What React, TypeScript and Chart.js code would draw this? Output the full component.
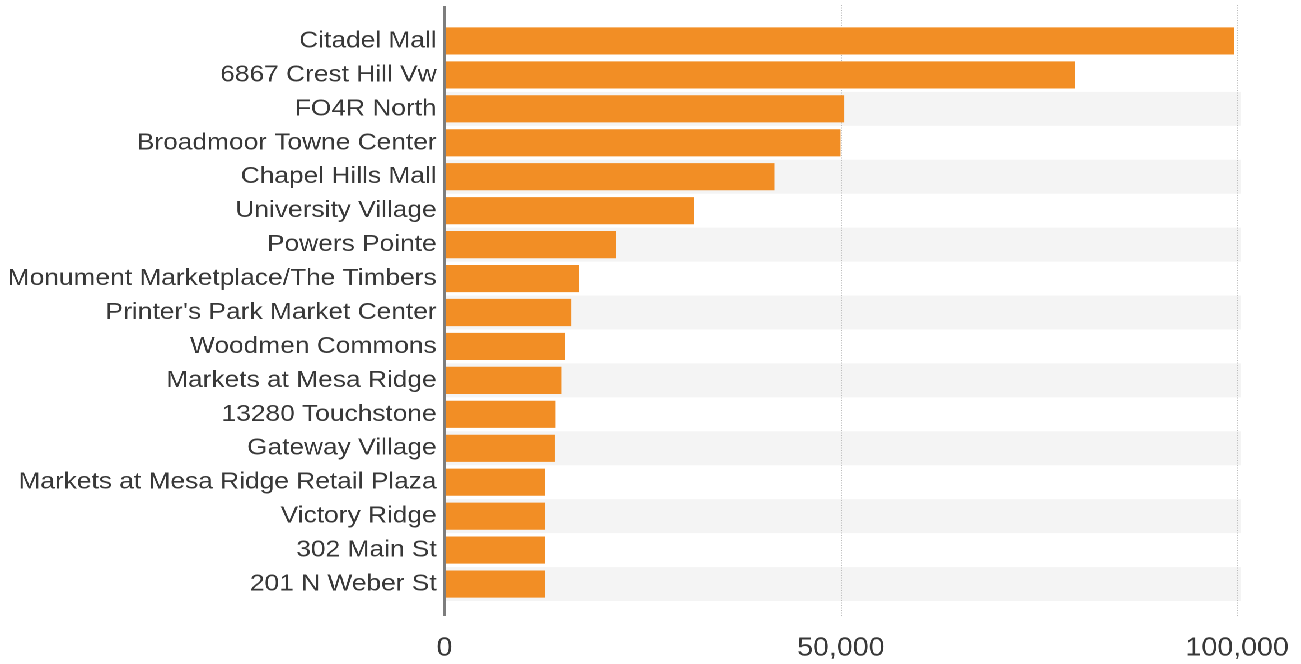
import React, { useEffect, useRef } from "react";
import Chart from "chart.js/auto";

const categories: string[] = [
  "Citadel Mall",
  "6867 Crest Hill Vw",
  "FO4R North",
  "Broadmoor Towne Center",
  "Chapel Hills Mall",
  "University Village",
  "Powers Pointe",
  "Monument Marketplace/The Timbers",
  "Printer's Park Market Center",
  "Woodmen Commons",
  "Markets at Mesa Ridge",
  "13280 Touchstone",
  "Gateway Village",
  "Markets at Mesa Ridge Retail Plaza",
  "Victory Ridge",
  "302 Main St",
  "201 N Weber St",
];

const values: number[] = [
  99600, 79550, 50430, 49960, 41630, 31490, 21650, 17020, 15970, 15210, 14790,
  14010, 13910, 12650, 12650, 12650, 12650,
];

const xTickValues: number[] = [0, 50000, 100000];
const gridValues: number[] = [50000, 100000];

const STRETCH = 1301 / 1162;
const CW = 1162;
const CH = 664;
const FONT = "'Liberation Sans', Arial, sans-serif";

const decorPlugin = {
  id: "decor",
  beforeDatasetsDraw(chart: any) {
    const { ctx, chartArea, scales } = chart;
    const y = scales.y;
    const n = categories.length;
    const pitch = (chartArea.bottom - chartArea.top) / n;
    ctx.save();
    ctx.fillStyle = "#f4f4f4";
    for (let i = 0; i < n; i++) {
      if (i % 2 === 0 && i > 0) {
        const c = y.getPixelForValue(i);
        ctx.fillRect(chartArea.left, c - pitch / 2, chartArea.right - chartArea.left + 3, pitch);
      }
    }
    ctx.strokeStyle = "#b8b8b8";
    ctx.lineWidth = 1;
    ctx.setLineDash([1, 1.5]);
    for (const v of gridValues) {
      const x = Math.round(scales.x.getPixelForValue(v)) + 0.5;
      ctx.beginPath();
      ctx.moveTo(x, 5);
      ctx.lineTo(x, 617);
      ctx.stroke();
    }
    ctx.restore();
  },
  afterDatasetsDraw(chart: any) {
    const { ctx, scales } = chart;
    const x0 = scales.x.getPixelForValue(0);
    ctx.save();
    ctx.strokeStyle = "#7d7d7d";
    ctx.lineWidth = 2.7;
    ctx.beginPath();
    ctx.moveTo(x0, 6);
    ctx.lineTo(x0, 616);
    ctx.stroke();
    ctx.restore();
  },
};

export default function App() {
  const ref = useRef<HTMLCanvasElement | null>(null);
  useEffect(() => {
    if (!ref.current) return;
    const chart = new Chart(ref.current, {
      type: "bar",
      data: {
        labels: categories,
        datasets: [
          {
            data: values,
            backgroundColor: "#F28E25",
            borderWidth: 0,
            barPercentage: 0.8,
            categoryPercentage: 1,
          },
        ],
      },
      options: {
        indexAxis: "y",
        animation: false,
        responsive: false,
        devicePixelRatio: 2,
        layout: { padding: { left: 0, right: CW - 1105, top: 24, bottom: 0 } },
        plugins: { legend: { display: false }, tooltip: { enabled: false } },
        scales: {
          x: {
            type: "linear",
            min: 0,
            max: 100000,
            afterBuildTicks(scale: any) {
              scale.ticks = xTickValues.map((v) => ({ value: v }));
            },
            afterFit(scale: any) {
              scale.height = 63;
              scale.paddingLeft = 0;
              scale.paddingRight = 0;
            },
            grid: { display: false, drawTicks: false },
            border: { display: false },
            ticks: {
              padding: 32,
              color: "#383838",
              font: { family: FONT, size: 25.5 },
              maxRotation: 0,
              callback: (v: any) => Number(v).toLocaleString("en-US"),
            },
          },
          y: {
            type: "category",
            afterFit(scale: any) {
              scale.width = 397;
              scale.paddingTop = 0;
              scale.paddingBottom = 0;
            },
            grid: { display: false, drawTicks: false },
            border: { display: false },
            ticks: {
              padding: 7,
              color: "#383838",
              font: { family: FONT, size: 23.5 },
              autoSkip: false,
            },
          },
        },
      },
      plugins: [decorPlugin],
    });
    return () => chart.destroy();
  }, []);
  return (
    <div
      style={{
        position: "absolute",
        left: 0,
        top: 0,
        width: CW,
        height: CH,
        transform: `scaleX(${STRETCH})`,
        transformOrigin: "0 0",
        background: "#ffffff",
      }}
    >
      <canvas ref={ref} width={CW} height={CH} style={{ width: CW, height: CH }} />
    </div>
  );
}
